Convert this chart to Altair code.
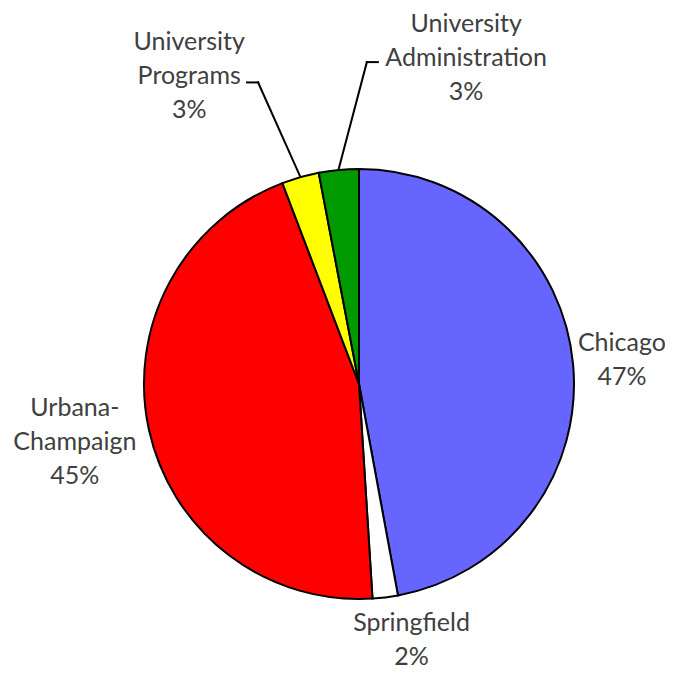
import altair as alt
import pandas as pd

# ---- data ----
cats = ["Chicago", "Springfield", "Urbana-Champaign", "University Programs", "University Administration"]
values = [47.1, 1.9, 45.2, 2.8, 3.0]
name_text = ["Chicago", "Springfield", "Urbana-\nChampaign", "University\nPrograms", "University\nAdministration"]
pct_text = ["47%", "2%", "45%", "3%", "3%"]
colors = ["#6666FF", "#FFFFFF", "#FF0000", "#FFFF00", "#009900"]

# ---- layout (not data) ----
W, H = 657, 661
CX, CY, R = 351, 376, 215
LH = 34
label_dtheta = [0.0, -4.6, 0.7, -13.0, 23.6]     # deg offset from slice middle
label_r = [264, 261, 290, 352, 343]               # px from centre
has_leader = [0, 0, 0, 1, 1]
knee_dtheta = [0, 0, 0, -2.66, 6.8]
knee_r = [0, 0, 0, 318, 322]
tail = [0, 0, 0, -11, 11]

labels_full = [n + "\n" + p for n, p in zip(name_text, pct_text)]
df = pd.DataFrame({
    "idx": list(range(len(cats))),
    "cat": cats,
    "value": values,
    "label": labels_full,
    "nl": [s.count("\n") + 1 for s in labels_full],
    "dth": label_dtheta,
    "lr": label_r,
    "lead": has_leader,
    "kdth": knee_dtheta,
    "kr": knee_r,
    "tail": tail,
})

base = alt.Chart(df)

arcs = base.mark_arc(outerRadius=R, stroke="black", strokeWidth=2).encode(
    theta=alt.Theta("value:Q", stack=True),
    order=alt.Order("idx:Q"),
    color=alt.Color("cat:N", scale=alt.Scale(domain=cats, range=colors), legend=None),
    x=alt.value(CX),
    y=alt.value(CY),
)

geo = base.transform_joinaggregate(total="sum(value)").transform_window(
    cum="sum(value)", sort=[alt.SortField("idx")], frame=[None, 0]
).transform_calculate(
    mid="(datum.cum - datum.value/2)/datum.total*2*PI"
)

labels = geo.transform_calculate(
    a="datum.mid + datum.dth*PI/180"
).transform_calculate(
    lx=f"{CX} + datum.lr*sin(datum.a)",
    ly=f"{CY} - datum.lr*cos(datum.a) - (datum.nl - 1)*{LH}/2",
).mark_text(
    font="Lato", fontSize=25, lineBreak="\n", lineHeight=LH,
    align="center", baseline="middle", color="#404040"
).encode(
    x=alt.X("lx:Q", scale=None, axis=None),
    y=alt.Y("ly:Q", scale=None, axis=None),
    text="label:N",
)

lead = geo.transform_filter("datum.lead == 1").transform_calculate(
    ka="datum.mid + datum.kdth*PI/180"
).transform_calculate(
    x0=f"{CX} + {R + 1}*sin(datum.mid)",
    y0=f"{CY} - {R + 1}*cos(datum.mid)",
    x1=f"{CX} + datum.kr*sin(datum.ka)",
    y1=f"{CY} - datum.kr*cos(datum.ka)",
).transform_calculate(
    x2="datum.x1 + datum.tail"
)

lead1 = lead.mark_rule(color="black", strokeWidth=2, strokeCap="square").encode(
    x=alt.X("x0:Q", scale=None, axis=None), y=alt.Y("y0:Q", scale=None, axis=None),
    x2="x1:Q", y2="y1:Q",
)
lead2 = lead.mark_rule(color="black", strokeWidth=2, strokeCap="square").encode(
    x=alt.X("x1:Q", scale=None, axis=None), y=alt.Y("y1:Q", scale=None, axis=None),
    x2="x2:Q", y2="y1:Q",
)

chart = alt.layer(arcs, lead1, lead2, labels).properties(
    width=W, height=H, padding=0, autosize=alt.AutoSizeParams(type="none")
).configure_view(stroke=None)

chart.save("out.html", embed_options={"renderer": "svg", "actions": False})
